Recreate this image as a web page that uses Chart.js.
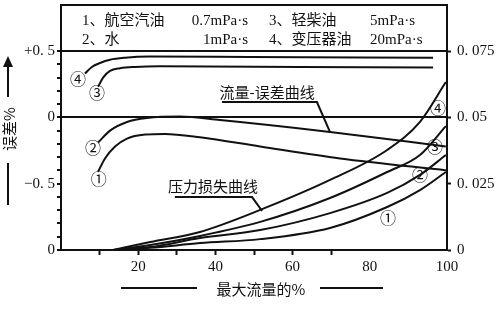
<!DOCTYPE html>
<html>
<head>
<meta charset="utf-8">
<script src="https://cdn.jsdelivr.net/npm/chart.js@4.4.1/dist/chart.umd.min.js"></script>
<style>
  html, body { margin: 0; padding: 0; background: #fff; }
  #wrap { width: 504px; height: 316px; }
</style>
</head>
<body>
<div id="wrap"><canvas id="chartCaudal"></canvas></div>
<script>
// 流量-误差曲线 (left axis, %)
const flowErr1 = [9.6, 11.4, 14.0, 17.1, 21.8, 26.9, 36.0, 51.6, 72.3, 100];
const err1 = [-0.41, -0.31, -0.22, -0.16, -0.13, -0.125, -0.15, -0.22, -0.31, -0.40];
const flowErr2 = [9.6, 12.7, 17.1, 22.3, 30.8, 41.2, 69.7, 99.7];
const err2 = [-0.19, -0.10, -0.035, -0.005, 0.006, -0.02, -0.11, -0.22];
const flowErr3 = [9.6, 10.9, 12.7, 15.3, 19.2, 25.6, 61.9, 96.4];
const err3 = [0.23, 0.30, 0.35, 0.37, 0.38, 0.385, 0.38, 0.375];
const flowErr4 = [6.2, 8.0, 10.1, 12.7, 16.6, 23.0, 49.0, 96.4];
const err4 = [0.33, 0.38, 0.41, 0.435, 0.45, 0.458, 0.455, 0.45];

// 压力损失曲线 (right axis)
const flowPres = [13.5, 23.1, 36.0, 51.6, 69.7, 84.5, 93.0, 99.7];
const pres1 = [0, 0.0008, 0.0026, 0.0041, 0.0083, 0.0162, 0.0226, 0.0294];
const pres2 = [0, 0.0011, 0.0045, 0.0075, 0.0139, 0.0215, 0.0283, 0.0358];
const pres3 = [0, 0.0019, 0.0053, 0.0106, 0.0196, 0.0294, 0.0358, 0.0467];
const pres4 = [0, 0.0030, 0.0068, 0.0151, 0.0264, 0.0377, 0.0483, 0.0633];

const xTicks = [10, 20, 30, 40, 50, 60, 70, 80, 90, 100];
const xLabels = ['', '20', '', '40', '', '60', '', '80', '', '100'];
const errTicks = [-1, -0.9, -0.8, -0.7, -0.6, -0.5, -0.4, -0.3, -0.2, -0.1, 0, 0.1, 0.2, 0.3, 0.4, 0.5];
const errLabels = ['0', '', '', '', '', '\u22120. 5', '', '', '', '', '0', '', '', '', '', '+0. 5'];
const presTicks = [0, 0.025, 0.05, 0.075];
const presLabels = ['0', '0. 025', '0. 05', '0. 075'];

const legendRows = [
  ['1、航空汽油', '0.7mPa·s', '3、轻柴油', '5mPa·s'],
  ['2、水', '1mPa·s', '4、变压器油', '20mPa·s']
];

const BLACK = '#111';
const SERIF = '"Liberation Serif", "Noto Sans CJK SC", serif';
const CJK = '"Noto Sans CJK SC", sans-serif';

function pts(xs, ys) {
  return xs.map((x, i) => ({ x: x, y: ys[i] }));
}

function curve(xs, ys, axis) {
  return {
    data: pts(xs, ys),
    yAxisID: axis,
    borderColor: BLACK,
    borderWidth: 2,
    pointRadius: 0,
    showLine: true,
    fill: false,
    cubicInterpolationMode: 'monotone'
  };
}

// circled numbers and callouts, in data units of x / left axis
const circleMarks = [
  ['④', 4.4, 0.29], ['③', 9.3, 0.183], ['②', 8.3, -0.231], ['①', 9.8, -0.465],
  ['④', 97.7, 0.07], ['③', 96.9, -0.224], ['②', 93.0, -0.435], ['①', 84.7, -0.759]
];
const callouts = [
  { text: '流量-误差曲线', at: [53.4, 0.191], line: [[41.7, 0.115], [66.3, 0.115], [69.7, -0.111]] },
  { text: '压力损失曲线', at: [39.4, -0.518], line: [[29.5, -0.601], [49.5, -0.601], [52.1, -0.706]] }
];

const extras = {
  id: 'extras',
  afterDraw(chart) {
    const c = chart.ctx;
    const a = chart.chartArea;
    const sx = chart.scales.x;
    const sy = chart.scales.y;
    c.save();
    c.strokeStyle = BLACK;
    c.fillStyle = BLACK;
    c.lineWidth = 2;
    // top edge of frame
    c.beginPath();
    c.moveTo(a.left, a.top);
    c.lineTo(a.right, a.top);
    c.stroke();

    // legend box text
    c.textBaseline = 'middle';
    c.font = '15px ' + SERIF;
    const rowY = [a.top + 16, a.top + 35];
    legendRows.forEach((r, i) => {
      c.textAlign = 'left';
      c.fillText(r[0], 82, rowY[i]);
      c.textAlign = 'right';
      c.fillText(r[1], 248, rowY[i]);
      c.textAlign = 'left';
      c.fillText(r[2], 269, rowY[i]);
      c.fillText(r[3], 370, rowY[i]);
    });

    // circled numbers
    c.font = '16px ' + CJK;
    c.textAlign = 'center';
    circleMarks.forEach(m => {
      c.fillText(m[0], sx.getPixelForValue(m[1]), sy.getPixelForValue(m[2]));
    });

    // callouts
    c.font = '15px ' + CJK;
    c.lineWidth = 2;
    callouts.forEach(co => {
      c.fillText(co.text, sx.getPixelForValue(co.at[0]), sy.getPixelForValue(co.at[1]));
      c.beginPath();
      co.line.forEach((p, i) => {
        const px = sx.getPixelForValue(p[0]);
        const py = sy.getPixelForValue(p[1]);
        if (i === 0) c.moveTo(px, py); else c.lineTo(px, py);
      });
      c.stroke();
    });

    // y title with arrow
    c.lineWidth = 2;
    c.beginPath();
    c.moveTo(8, 97); c.lineTo(8, 60);
    c.moveTo(8, 163); c.lineTo(8, 205);
    c.stroke();
    c.beginPath();
    c.moveTo(8, 56); c.lineTo(3, 67); c.lineTo(13, 67); c.closePath();
    c.fill();
    c.save();
    c.translate(9, 129);
    c.rotate(-Math.PI / 2);
    c.font = '15px ' + CJK;
    c.fillText('误差%', 0, 0);
    c.restore();

    // x title
    c.font = '15px ' + CJK;
    c.fillText('最大流量的%', 261, 289);
    c.beginPath();
    c.moveTo(121, 288); c.lineTo(197, 288);
    c.moveTo(320, 288); c.lineTo(383, 288);
    c.stroke();
    c.restore();
  }
};

// keep the plot frame where the original puts it
function fixWidth(w) {
  return s => { s.width = w; s.paddingTop = 0; s.paddingBottom = 0; };
}

const ctx = document.getElementById('chartCaudal');

new Chart(ctx, {
  type: 'scatter',
  data: {
    datasets: [
      curve(flowErr1, err1, 'y'),
      curve(flowErr2, err2, 'y'),
      curve(flowErr3, err3, 'y'),
      curve(flowErr4, err4, 'y'),
      curve(flowPres, pres1, 'y2'),
      curve(flowPres, pres2, 'y2'),
      curve(flowPres, pres3, 'y2'),
      curve(flowPres, pres4, 'y2')
    ]
  },
  options: {
    responsive: true,
    maintainAspectRatio: false,
    animation: false,
    layout: { padding: { top: 5, left: 0, right: 0, bottom: 0 } },
    plugins: { legend: { display: false }, tooltip: { enabled: false } },
    scales: {
      x: {
        type: 'linear',
        min: 0,
        max: 100,
        afterFit: s => { s.height = 66; s.paddingLeft = 0; s.paddingRight = 0; },
        afterBuildTicks: s => { s.ticks = xTicks.map(v => ({ value: v })); },
        border: { display: true, color: BLACK, width: 2 },
        grid: {
          drawOnChartArea: false,
          tickLength: 5,
          tickWidth: 2,
          tickColor: c => (c.tick && c.tick.value <= 70) ? BLACK : 'rgba(0,0,0,0)'
        },
        ticks: {
          autoSkip: false,
          maxRotation: 0,
          padding: 3,
          color: BLACK,
          font: { family: SERIF, size: 15 },
          callback: (v, i) => xLabels[i]
        }
      },
      y: {
        type: 'linear',
        position: 'left',
        min: -1,
        max: 0.847,
        afterFit: fixWidth(61),
        afterBuildTicks: s => { s.ticks = errTicks.map(v => ({ value: v })); },
        border: { display: true, color: BLACK, width: 2 },
        grid: {
          lineWidth: 2,
          color: c => (c.tick && (c.tick.value === 0 || c.tick.value === 0.5)) ? BLACK : 'rgba(0,0,0,0)',
          tickColor: BLACK,
          tickLength: 4,
          tickWidth: 2
        },
        ticks: {
          autoSkip: false,
          padding: 2,
          color: BLACK,
          font: { family: SERIF, size: 15 },
          callback: (v, i) => errLabels[i]
        }
      },
      y2: {
        type: 'linear',
        position: 'right',
        min: 0,
        max: 0.09235,
        afterFit: fixWidth(57),
        afterBuildTicks: s => { s.ticks = presTicks.map(v => ({ value: v })); },
        border: { display: true, color: BLACK, width: 2 },
        grid: {
          drawOnChartArea: false,
          tickColor: BLACK,
          tickLength: 4,
          tickWidth: 2
        },
        ticks: {
          autoSkip: false,
          padding: 6,
          color: BLACK,
          font: { family: SERIF, size: 15 },
          callback: (v, i) => presLabels[i]
        }
      }
    }
  },
  plugins: [extras]
});
</script>
</body>
</html>
